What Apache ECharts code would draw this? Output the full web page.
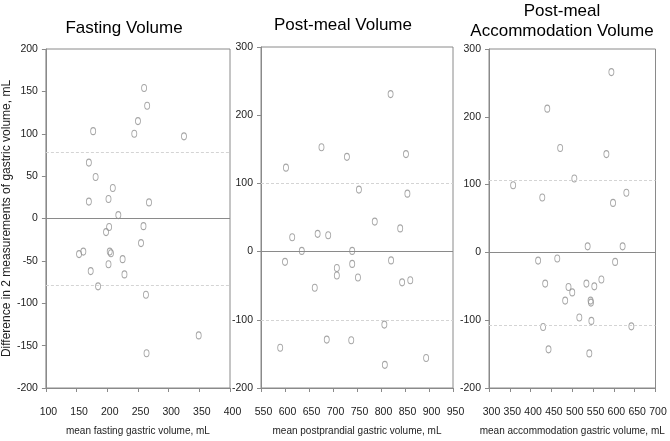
<!DOCTYPE html>
<html>
<head>
<meta charset="utf-8">
<script src="https://cdn.jsdelivr.net/npm/echarts@6/dist/echarts.min.js"></script>
<style>html,body{margin:0;padding:0;background:#fff}#c{width:670px;height:441px}</style>
</head>
<body>
<div id="c"></div>
<script>
// Panel titles and axis names
const titles = ["Fasting Volume", "Post-meal Volume", "Post-meal\nAccommodation Volume"];
const xNames = ["mean fasting gastric volume, mL", "mean postprandial gastric volume, mL", "mean accommodation gastric volume, mL"];
const yName = "Difference in 2 measurements of gastric volume, mL";

// Fasting volume: mean (x) vs difference (y)
const fastX = [260,265,250,177,244,325,170,181,209,170,202,268,218,203,259,198,255,154,161,204,206,202,225,173,228,185,263,349,264];
const fastY = [154,133,115,103,100,97,66,49,36,20,23,19,4,-10,-9,-16,-29,-42,-39,-39,-41,-54,-48,-62,-66,-80,-90,-138,-159];

// Post-meal volume
const postX = [820,676,729,852,602,754,855,787,840,615,668,690,635,740,600,740,821,708,708,752,844,861,662,807,687,738,590,808,894];
const postY = [231,153,139,143,123,91,85,44,34,21,26,24,1,1,-15,-18,-13,-24,-35,-38,-45,-42,-53,-107,-129,-130,-141,-166,-156];

// Post-meal accommodation volume
const accX = [594,440,471,582,505,358,428,630,598,537,621,418,464,603,435,534,570,491,500,553,483,544,545,517,546,430,642,443,541];
const accY = [266,212,154,145,109,99,81,88,73,9,9,-12,-9,-14,-46,-46,-40,-51,-59,-50,-71,-71,-74,-96,-101,-110,-109,-143,-149];

// Limits of agreement (±)
const loas = [78.5, 100, 107];

// Axis ranges
const xRanges = [[100,400,50],[550,950,50],[300,700,50]];
const yRanges = [[-200,200,50],[-200,300,100],[-200,300,100]];

const allX = [fastX, postX, accX];
const allY = [fastY, postY, accY];

const grids = [
  {left: 42, top: 49, width: 188, height: 341},
  {left: 261, top: 47, width: 192, height: 341},
  {left: 489, top: 49, width: 166.5, height: 341}
];
const titlePos = [[124, 28], [343, 25], [562, 21]];

const axisColor = '#8a8a8a';
const labelColor = '#222';
const font = 'Liberation Sans, Arial, sans-serif';

const option = {
  animation: false,
  backgroundColor: '#fff',
  grid: grids.map(g => Object.assign({show: true, borderColor: axisColor, borderWidth: 1, backgroundColor: 'transparent'}, g)),
  xAxis: xRanges.map((r, i) => ({
    type: 'value', gridIndex: i, min: r[0], max: r[1], interval: r[2],
    name: xNames[i], nameLocation: 'middle', nameGap: 38,
    nameTextStyle: {fontFamily: font, fontSize: 10, color: labelColor},
    axisLine: {show: true, onZero: false, lineStyle: {color: axisColor, width: 1}},
    axisTick: {show: true, inside: false, length: 4, lineStyle: {color: axisColor}},
    axisLabel: {fontFamily: font, fontSize: 10.5, color: labelColor, margin: 19, padding: [0,0,0,5], showMinLabel: true, showMaxLabel: true},
    splitLine: {show: false}
  })),
  yAxis: yRanges.map((r, i) => ({
    type: 'value', gridIndex: i, min: r[0], max: r[1], interval: r[2],
    name: i === 0 ? yName : '', nameLocation: 'middle', nameGap: 32,
    nameTextStyle: {fontFamily: font, fontSize: 12, color: labelColor},
    axisLine: {show: true, onZero: false, lineStyle: {color: axisColor, width: 1}},
    axisTick: {show: true, inside: false, length: 4, lineStyle: {color: axisColor}},
    axisLabel: {fontFamily: font, fontSize: 10.5, color: labelColor, margin: 8},
    splitLine: {show: false}
  })),
  graphic: titles.map((t, i) => ({
    type: 'text', x: titlePos[i][0], y: titlePos[i][1],
    style: {text: t, font: '17px ' + font, fill: '#000', align: 'center', verticalAlign: 'middle', lineHeight: 20}
  })),
  series: allX.map((xs, i) => ({
    type: 'scatter', xAxisIndex: i, yAxisIndex: i,
    data: xs.map((x, k) => [x, allY[i][k]]),
    symbol: 'path://M0,-1 A1,1 0 1,1 0,1 A1,1 0 1,1 0,-1 Z',
    symbolSize: [5, 7],
    itemStyle: {color: 'rgba(0,0,0,0)', borderColor: '#8f8f8f', borderWidth: 1},
    markLine: {
      silent: true, symbol: 'none', label: {show: false},
      data: [
        {yAxis: 0, lineStyle: {type: 'solid', color: '#8a8a8a', width: 1}},
        {yAxis: loas[i], lineStyle: {type: [3, 2], color: '#d4d4d4', width: 1}},
        {yAxis: -loas[i], lineStyle: {type: [3, 2], color: '#d4d4d4', width: 1}}
      ]
    },
    z: 3
  }))
};

const chart = echarts.init(document.getElementById('c'), null, {renderer: 'canvas'});
chart.setOption(option);
</script>
</body>
</html>
